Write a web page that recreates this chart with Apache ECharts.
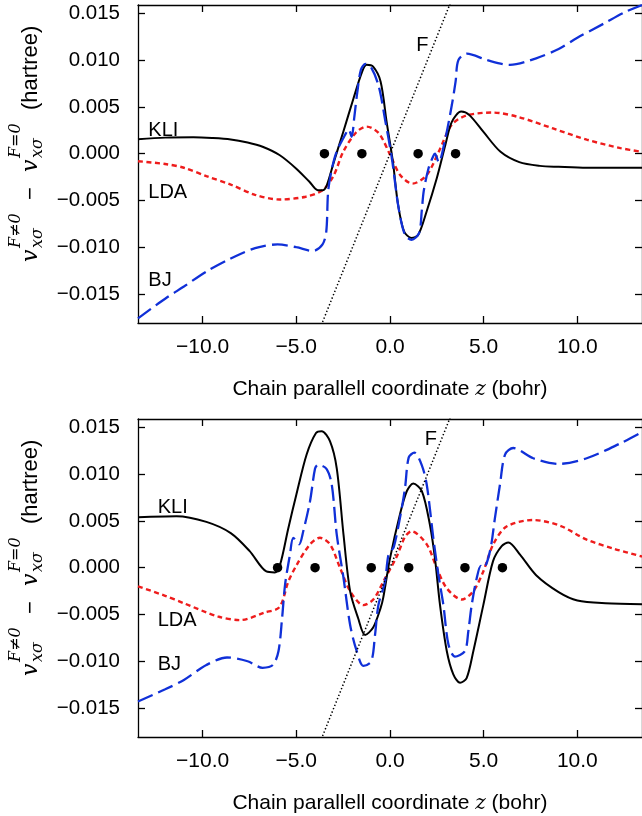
<!DOCTYPE html>
<html>
<head>
<meta charset="utf-8">
<script src="https://cdn.jsdelivr.net/npm/echarts@6/dist/echarts.min.js"></script>
<style>
  html, body { margin: 0; padding: 0; background: #fff; }
  #chart { width: 642px; height: 816px; }
</style>
</head>
<body>
<div id="chart"></div>
<script>
// axis ranges and ticks
const zMin = -13.45, zMax = 13.45
const vMin = -0.0181, vMax = 0.0159
const zTicks = [-10, -5, 0, 5, 10]
const vTicks = [-0.015, -0.010, -0.005, 0, 0.005, 0.010, 0.015]

// upper panel (4 atoms)
const topKLI = [[-13.45,0.00155],[-12,0.00172],[-10.5,0.00175],[-9.5,0.00168],[-8.5,0.00153],[-7.6,0.0012],[-6.8,0.00075],[-5.9,-0.00014],[-5.0,-0.0016],[-4.3,-0.003],[-3.85,-0.0039],[-3.6,-0.0039],[-3.38,-0.0034],[-3.0,-0.0009],[-2.5,0.0023],[-1.95,0.0059],[-1.5,0.0087],[-1.25,0.0095],[-0.9,0.0093],[-0.5,0.0077],[-0.18,0.0034],[0.15,-0.0008],[0.42,-0.0053],[0.75,-0.0083],[1.15,-0.009],[1.5,-0.0087],[1.95,-0.0062],[2.5,-0.0026],[2.95,0.0009],[3.3,0.0034],[3.8,0.0045],[4.25,0.0041],[5.0,0.0023],[5.9,0.0002],[6.9,-0.0009],[8,-0.0013],[9,-0.0014],[10.5,-0.0015],[13.45,-0.0015]]
const topLDA = [[-13.45,-0.0008],[-12,-0.0011],[-11,-0.0015],[-9.8,-0.0024],[-8.5,-0.0033],[-7.2,-0.0044],[-5.9,-0.0049],[-4.5,-0.0046],[-3.6,-0.0039],[-3.0,-0.0023],[-2.5,0.0002],[-1.8,0.0023],[-1.25,0.0029],[-0.6,0.0022],[0,-0.0001],[0.55,-0.0023],[1.2,-0.0032],[1.95,-0.0023],[2.6,0.0002],[3.3,0.0031],[4.1,0.0041],[5.5,0.0044],[6.9,0.0039],[8.7,0.0027],[10.5,0.0015],[12.3,0.0006],[13.45,0.0002]]
const topBJ = [[-13.45,-0.0176],[-12,-0.0155],[-11,-0.0142],[-9.8,-0.0126],[-8.5,-0.0112],[-7.2,-0.0101],[-6,-0.0097],[-5,-0.01],[-4.1,-0.0104],[-3.6,-0.0097],[-3.4,-0.0083],[-3.3,-0.004],[-3.1,-0.0016],[-2.85,0.0002],[-2.4,0.002],[-2.2,0.0026],[-2.05,0.0018],[-1.9,0.004],[-1.75,0.0065],[-1.55,0.009],[-1.3,0.0096],[-1.0,0.0092],[-0.6,0.0072],[-0.25,0.0035],[0.1,-0.0005],[0.45,-0.0057],[0.8,-0.0087],[1.15,-0.0092],[1.55,-0.0085],[1.7,-0.006],[1.8,-0.004],[2.05,-0.0016],[2.3,-0.0003],[2.4,0.0],[2.6,-0.0009],[2.95,0.0016],[3.3,0.0052],[3.5,0.0077],[3.65,0.01],[4.1,0.0107],[5.2,0.01],[6.4,0.0095],[7.8,0.0102],[9,0.0112],[10,0.0124],[11.4,0.0139],[12.5,0.0151],[13.45,0.0159]]
const topField = [[-3.6,-0.018],[3.2,0.016]]
const topAtoms = [[-3.5,0],[-1.5,0],[1.5,0],[3.5,0]]

// lower panel (6 atoms)
const botKLI = [[-13.45,0.0054],[-11.4,0.0055],[-9.8,0.0049],[-8.5,0.0037],[-7.5,0.0018],[-6.6,-0.0004],[-6.15,-0.0005],[-5.87,0.0003],[-5.43,0.0042],[-5.0,0.0078],[-4.45,0.0121],[-3.95,0.0144],[-3.65,0.0146],[-3.2,0.0135],[-2.84,0.0106],[-2.48,0.0035],[-2.13,-0.0025],[-1.7,-0.0054],[-1.33,-0.0072],[-0.9,-0.0064],[-0.5,-0.0043],[-0.36,-0.0032],[0,0.001],[0.53,0.0057],[0.9,0.0082],[1.24,0.009],[1.7,0.0082],[2.13,0.0046],[2.4,0.001],[2.67,-0.004],[3.03,-0.0089],[3.38,-0.0114],[3.74,-0.0123],[4.09,-0.0118],[4.45,-0.0089],[4.98,-0.004],[5.5,0.0007],[5.96,0.0023],[6.32,0.0027],[6.94,0.0014],[7.8,-0.0008],[9.0,-0.0026],[10,-0.0035],[11.5,-0.0038],[13.45,-0.0039]]
const botLDA = [[-13.45,-0.002],[-12,-0.003],[-11,-0.0038],[-9.2,-0.0052],[-8,-0.0056],[-6.7,-0.0048],[-5.9,-0.0042],[-5.43,-0.0015],[-4.98,0.0003],[-4.27,0.0025],[-3.74,0.0032],[-3.2,0.0025],[-2.67,0.0],[-2.13,-0.0025],[-1.42,-0.004],[-0.89,-0.0034],[-0.36,-0.0015],[0.36,0.0012],[0.8,0.0033],[1.15,0.0039],[1.96,0.0025],[2.49,0.0],[3.03,-0.0022],[3.83,-0.0034],[4.45,-0.0025],[4.98,-0.0004],[5.51,0.0025],[6.22,0.0044],[7.64,0.0051],[9.07,0.0045],[10.5,0.003],[12,0.002],[13.45,0.0012]]
const botBJ = [[-13.45,-0.0143],[-12,-0.013],[-11,-0.012],[-9.8,-0.0104],[-8.7,-0.0096],[-7.6,-0.01],[-6.8,-0.0107],[-6.25,-0.0104],[-5.95,-0.0089],[-5.76,-0.0054],[-5.6,-0.0018],[-5.34,0.0014],[-5.16,0.0032],[-4.85,0.0025],[-4.63,0.0039],[-4.27,0.0071],[-4.0,0.0106],[-3.85,0.011],[-3.4,0.0106],[-3.11,0.0089],[-2.84,0.0035],[-2.48,-0.0011],[-2.13,-0.0061],[-1.78,-0.0089],[-1.42,-0.0105],[-1.0,-0.01],[-0.8,-0.0072],[-0.62,-0.004],[-0.27,-0.0015],[-0.1,0.0012],[0.05,0.0018],[0.2,0.0022],[0.53,0.0053],[0.8,0.0085],[1.0,0.0118],[1.3,0.0123],[1.69,0.011],[1.96,0.0089],[2.31,0.0032],[2.58,-0.0007],[2.85,-0.004],[3.12,-0.0082],[3.47,-0.0095],[4.0,-0.0089],[4.18,-0.0068],[4.36,-0.004],[4.63,-0.0011],[4.85,0.0002],[5.0,0.0],[5.34,0.0018],[5.6,0.0053],[5.87,0.0089],[6.14,0.0121],[6.58,0.0128],[7.65,0.0117],[9.0,0.0111],[10.5,0.0117],[12.3,0.0133],[13.45,0.0145]]
const botField = [[-3.6,-0.018],[3.2,0.016]]
const botAtoms = [[-6,0],[-4,0],[-1,0],[1,0],[4,0],[6,0]]

// curve names, anchored in data coordinates
const topNotes = [[-12.9,0.0025,'KLI'],[-12.9,-0.0041,'LDA'],[-12.9,-0.0136,'BJ'],[1.4,0.0116,'F']]
const botNotes = [[-12.4,0.0064,'KLI'],[-12.4,-0.0056,'LDA'],[-12.4,-0.0104,'BJ'],[1.85,0.0137,'F']]

const SANS = 'Liberation Sans'
const SERIF = 'DejaVu Serif'
const fmtZ = v => v.toFixed(1).replace('-', '\u2212')
const fmtV = v => (Math.abs(v) < 1e-9 ? 0 : v).toFixed(3).replace('-', '\u2212')

const gridTops = [5, 419]

function xAxes(gi) {
  const common = {
    type: 'value', gridIndex: gi, min: zMin, max: zMax,
    splitLine: { show: false },
    axisLine: { onZero: false, lineStyle: { color: '#000', width: 1.3 } },
    axisTick: { inside: true, length: 7, lineStyle: { color: '#000', width: 1.3 }, customValues: zTicks }
  }
  return [
    Object.assign({}, common, {
      position: 'bottom',
      axisLabel: { customValues: zTicks, formatter: fmtZ, color: '#000', fontSize: 21, fontFamily: SANS, margin: 14 },
      name: 'Chain parallell coordinate {i|z} (bohr)',
      nameLocation: 'middle', nameGap: 56,
      nameTextStyle: { color: '#000', fontSize: 21, fontFamily: SANS,
        rich: { i: { fontStyle: 'italic', fontFamily: SERIF, fontSize: 20, color: '#000' } } }
    }),
    Object.assign({}, common, { position: 'top', axisLabel: { show: false } })
  ]
}

function yAxes(gi) {
  const common = {
    type: 'value', gridIndex: gi, min: vMin, max: vMax,
    splitLine: { show: false },
    axisLine: { show: true, onZero: false, lineStyle: { color: '#000', width: 1.3 } },
    axisTick: { show: true, inside: true, length: 7, lineStyle: { color: '#000', width: 1.3 }, customValues: vTicks }
  }
  return [
    Object.assign({}, common, {
      position: 'left',
      axisLabel: { customValues: vTicks, formatter: fmtV, color: '#000', fontSize: 20.5, fontFamily: SANS, margin: 18 }
    }),
    Object.assign({}, common, { position: 'right', axisLabel: { show: false } })
  ]
}

function panelSeries(gi, kli, lda, bj, field, atoms, notes) {
  const ax = { xAxisIndex: gi * 2, yAxisIndex: gi * 2 }
  return [
    Object.assign({ type: 'line', name: 'LDA', data: lda, smooth: 0.3, symbol: 'none',
      lineStyle: { color: '#ee1c1c', width: 2.4, type: [5, 3.5] } }, ax),
    Object.assign({ type: 'line', name: 'KLI', data: kli, smooth: 0.3, symbol: 'none',
      lineStyle: { color: '#000', width: 2 } }, ax),
    Object.assign({ type: 'line', name: 'BJ', data: bj, smooth: 0.3, symbol: 'none',
      lineStyle: { color: '#1030d8', width: 2.3, type: [16, 6] } }, ax),
    Object.assign({ type: 'line', name: 'F', data: field, symbol: 'none',
      lineStyle: { color: '#000', width: 1.5, type: [1.4, 2.2] } }, ax),
    Object.assign({ type: 'scatter', data: atoms, symbol: 'circle', symbolSize: 9.5,
      itemStyle: { color: '#000', opacity: 1 }, z: 5 }, ax),
    Object.assign({ type: 'scatter', data: notes, symbolSize: 0, silent: true,
      itemStyle: { opacity: 1 },
      label: { show: true, position: [0, 0], align: 'left', verticalAlign: 'middle',
        formatter: p => p.data[2], color: '#000', opacity: 1, fontSize: 20, fontFamily: SANS } }, ax)
  ]
}

// rotated y-axis title with stacked super/subscripts
function yTitle(cy) {
  const it = (text, lx, ly, size, family, style) => ({
    type: 'text', x: lx, y: ly,
    style: { text, fill: '#000', font: (style || '') + ' ' + size + 'px "' + family + '"',
      align: 'left', verticalAlign: 'middle' }
  })
  return {
    type: 'group', x: 31, y: cy + 98, rotation: Math.PI / 2,
    children: [
      it('v', 0, 0, 22, SERIF, 'italic'),
      it('F\u22600', 14, -15, 16, SERIF, 'italic'),
      it('x\u03c3', 14, 7, 16, SERIF, 'italic'),
      it('\u2212', 62, 0, 22, SANS),
      it('v', 90, 0, 22, SERIF, 'italic'),
      it('F=0', 104, -15, 16, SERIF, 'italic'),
      it('x\u03c3', 104, 7, 16, SERIF, 'italic'),
      it('(hartree)', 152, 0, 22, SANS)
    ]
  }
}

const chart = echarts.init(document.getElementById('chart'), null, { renderer: 'canvas' })
chart.setOption({
  animation: false,
  backgroundColor: '#fff',
  grid: gridTops.map(t => ({ left: 138, top: t, width: 504, height: 318 })),
  xAxis: xAxes(0).concat(xAxes(1)),
  yAxis: yAxes(0).concat(yAxes(1)),
  series: panelSeries(0, topKLI, topLDA, topBJ, topField, topAtoms, topNotes)
    .concat(panelSeries(1, botKLI, botLDA, botBJ, botField, botAtoms, botNotes)),
  graphic: gridTops.map(t => yTitle(t + 159))
})
</script>
</body>
</html>
